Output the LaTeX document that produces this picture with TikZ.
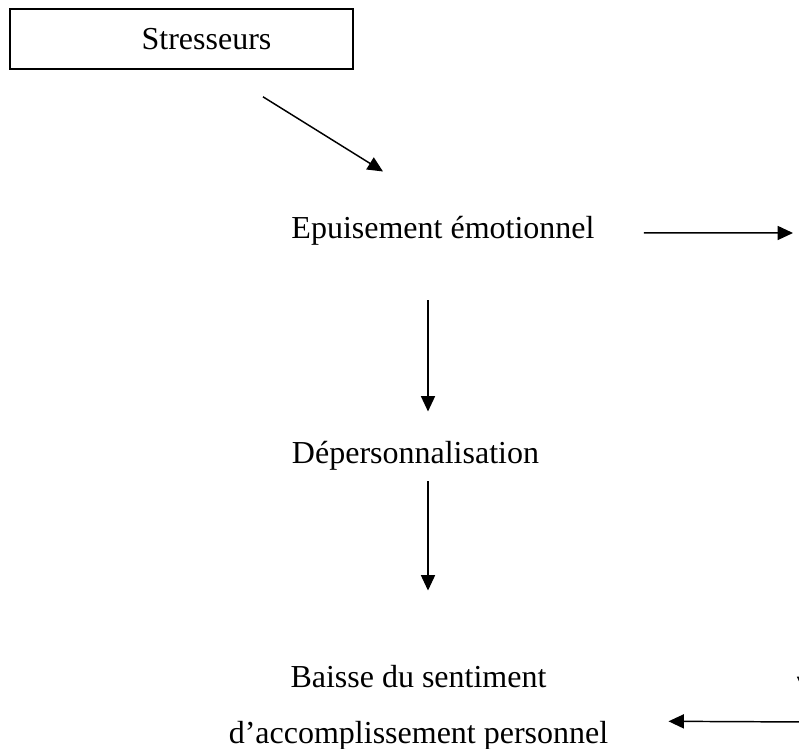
\documentclass[tikz,border=0pt]{standalone}
\usepackage{fontspec}
\setmainfont{Liberation Serif}
\usetikzlibrary{arrows.meta,calc}
\begin{document}
\begin{tikzpicture}[x=0.75pt,y=-0.75pt,
    arr/.style={line width=1.1pt,-{Triangle[length=11.5pt,width=10.5pt]}},
    lbl/.style={inner sep=0pt,font=\fontsize{24}{42}\selectfont}]
\useasboundingbox (0,0) rectangle (799,749);
\clip (0,0) rectangle (799,749);
\node [draw,line width=1.2pt,minimum width=257pt,minimum height=45pt,inner sep=0pt,
       font=\fontsize{24}{29}\selectfont] (stress) at (181.5,39) {\hspace*{37.5pt}Stresseurs};
\node [lbl,anchor=base] (epuis) at (443,238) {Epuisement émotionnel};
\node [lbl,anchor=base] (dep) at (415.5,463) {Dépersonnalisation};
\node [lbl,anchor=base,align=center] (baisse) at (418.5,743) {Baisse du sentiment\\d’accomplissement personnel};
\coordinate (outE) at (793,233);
\coordinate (inB) at (810,722);
\coordinate (rtop) at (804,600);
\coordinate (rbot) at (804,692);
\draw [arr] ($(stress.south)+(81.5,27)$) -- ($(epuis.north)+(-60,-44)$);
\draw [arr] ($(epuis.east)+(49,2.5)$) -- (outE);
\draw [arr] ($(epuis.south)+(-15,55)$) -- ($(dep.north)+(12.5,-29)$);
\draw [arr] ($(dep.south)+(12.5,11)$) -- ($(baisse.north)+(9.5,-74)$);
\draw [arr] (inB) -- ($(baisse.east)+(60,14)$);
\draw [arr] (rtop) -- (rbot);
\end{tikzpicture}
\end{document}
